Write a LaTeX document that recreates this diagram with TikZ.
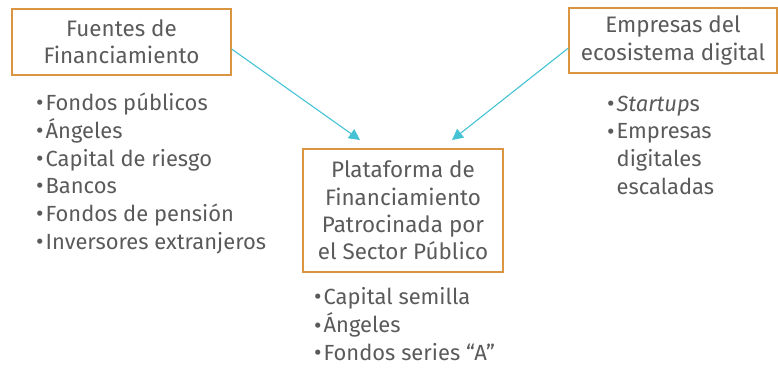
\documentclass[tikz,border=0pt]{standalone}
\usepackage{fontspec}
\setmainfont{Fira Sans}
\usetikzlibrary{arrows.meta}
\definecolor{txt}{HTML}{5A5A5A}
\definecolor{boxc}{HTML}{D9953F}
\definecolor{arr}{HTML}{45C3D4}
\tikzset{
  box/.style={draw=boxc, line width=1.2bp, inner sep=0pt, align=center, text=txt,
    font=\fontsize{22.5}{27.4}\selectfont},
  lst/.style={anchor=north west, inner sep=0pt, text=txt, align=left,
    font=\fontsize{22}{27.8}\selectfont},
  conn/.style={draw=arr, line width=1.1bp, -{Triangle[length=11bp,width=11bp]}}
}
\newcommand{\bul}{\raisebox{-0.01em}{\scalebox{1.05}{\textbullet}}}
\begin{document}
\begin{tikzpicture}[x=1bp,y=-1bp]
\useasboundingbox (0,0) rectangle (778,367);
\node[box, minimum width=219bp, minimum height=66bp] (fuentes) at (121.5,42) {Fuentes de\\Financiamiento};
\node[box, minimum width=208bp, minimum height=65bp] (empresas) at (673,40.5) {Empresas del\\ecosistema digital};
\node[box, minimum width=200bp, minimum height=123bp] (plat) at (403,210.5) {Plataforma de\\Financiamiento\\Patrocinada por\\el Sector P\'ublico};
\node[lst] (l1) at (36,90.5) {\begin{tabular}{@{}l@{\hspace{2bp}}l@{}}
\bul & Fondos públicos\\
\bul & Ángeles\\
\bul & Capital de riesgo\\
\bul & Bancos\\
\bul & Fondos de pensión\\
\bul & Inversores extranjeros
\end{tabular}};
\node[lst] (l2) at (607,91.5) {\begin{tabular}{@{}l@{\hspace{2bp}}l@{}}
\bul & \textit{Startup}s\\
\bul & Empresas\\
 & digitales\\
 & escaladas
\end{tabular}};
\node[lst] (l3) at (314,285) {\begin{tabular}{@{}l@{\hspace{2bp}}l@{}}
\bul & Capital semilla\\
\bul & Ángeles\\
\bul & Fondos series “A”
\end{tabular}};
\coordinate (t1) at (360,140);
\coordinate (t2) at (452,140);
\draw[conn] ([yshift=-7bp]fuentes.east) -- (t1);
\draw[conn] ([yshift=-7.5bp]empresas.west) -- (t2);
\end{tikzpicture}
\end{document}
